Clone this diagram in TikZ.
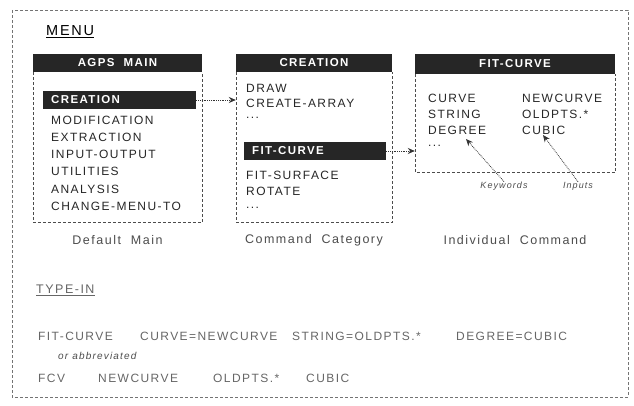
\documentclass[tikz,border=0pt]{standalone}
\usepackage{fontspec}
\setmainfont{Liberation Sans}[LetterSpace=12]
\usetikzlibrary{positioning}
\usetikzlibrary{arrows.meta}

\tikzset{
  headbar/.style={fill=black!85, text=white, inner sep=0pt, minimum height=18,
    font=\fontsize{11.5}{13}\selectfont\bfseries},
  pickbar/.style={fill=black!85, text=white, inner xsep=8pt, inner ysep=0pt,
    minimum height=18, text width=#1, align=left, font=\fontsize{11.5}{13}\selectfont\bfseries},
  itemtext/.style={text=black!85, inner sep=0pt, anchor=west, font=\fontsize{12}{14}\selectfont},
  boxline/.style={draw=black!70, densely dashed, line width=0.6pt},
  caption/.style={text=black!70, inner sep=0pt, font=\fontsize{12.5}{14}\selectfont},
  notetext/.style={text=black!70, inner sep=0pt, font=\fontsize{9}{10}\selectfont\itshape},
  pointer/.style={densely dotted, line width=0.8pt, black!80, -{Stealth[length=7pt,width=6pt]}},
  typetext/.style={text=black!60, inner sep=0pt, anchor=west, font=\fontsize{12}{14}\selectfont},
}

\begin{document}
\begin{tikzpicture}[x=1pt,y=-1pt]
\useasboundingbox (0,0) rectangle (634,406);
\draw[boxline,black!55] (12,10) rectangle (628,397);

\node[itemtext,text=black,font=\fontsize{14.5}{16}\selectfont] (menu) at (46,32) {\underline{MENU}};

% Default main menu, CREATION picked.
\node[headbar, minimum width=169] (mainhead) at (117.5,63) {AGPS\ \ MAIN};
\draw[boxline] (mainhead.south west) -- ++(0,150) -| (mainhead.south east);
\node[pickbar=137pt, anchor=west] (creationbar) at (43,100) {CREATION};
\foreach \lbl [count=\i] in {MODIFICATION, EXTRACTION, INPUT-OUTPUT, UTILITIES, ANALYSIS, CHANGE-MENU-TO}
  \node[itemtext] (mainitem\i) at (51,{103+17.2*\i}) {\lbl};
\node[caption] (maincap) at (117.5,240) {Default\ \ Main};

% Command category, FIT-CURVE picked.
\node[headbar, minimum width=156] (cathead) at (314,63) {CREATION};
\draw[boxline] (cathead.south west) -- ++(0,150) -| (cathead.south east);
\node[itemtext] (catdraw) at (246,88) {DRAW};
\node[itemtext] (catarray) at (246,103) {CREATE-ARRAY};
\node[itemtext] (catdots) at (246,118) {...};
\node[pickbar=126pt, anchor=west] (fitbar) at (244,151) {FIT-CURVE};
\node[itemtext] (catsurf) at (246,175) {FIT-SURFACE};
\node[itemtext] (catrot) at (246,191) {ROTATE};
\node[itemtext] (catmore) at (246,208) {...};
\node[caption] (catcap) at (314,240) {Command\ \ Category};

\draw[pointer] (creationbar.east) -- (creationbar.east -| cathead.west);

% Individual command with keywords and inputs.
\node[headbar, minimum width=200, minimum height=20] (cmdhead) at (515,64) {FIT-CURVE};
\draw[boxline] (cmdhead.south west) -- ++(0,98) -| (cmdhead.south east);
\foreach \kw/\val [count=\i] in {CURVE/NEWCURVE, STRING/OLDPTS.*, DEGREE/CUBIC} {
  \node[itemtext] (kw\i) at (428,{82+16*\i}) {\kw};
  \node[itemtext] (val\i) at (522,{82+16*\i}) {\val};
}
\node[itemtext] (kwdots) at (428,146) {...};
\node[caption] (cmdcap) at (515,240) {Individual\ \ Command};

\draw[pointer] (fitbar.east) -- (fitbar.east -| cmdhead.west);

\node[notetext] (keywords) at (504,186) {Keywords};
\node[notetext] (inputs) at (578,186) {Inputs};
\coordinate (kwtip) at (466,139);
\coordinate (valtip) at (543,135);
\draw[pointer] (keywords.north) -- (kwtip);
\draw[pointer] (inputs.north) -- (valtip);

% Typed form of the same command.
\node[itemtext,text=black!60,font=\fontsize{12.5}{14}\selectfont] (typein) at (36,290) {\underline{TYPE-IN}};
\node[typetext] (fullcmd) at (38,336) {FIT-CURVE};
\node[typetext] (fullkw1) at (140,336) {CURVE=NEWCURVE};
\node[typetext] (fullkw2) at (292,336) {STRING=OLDPTS.*};
\node[typetext] (fullkw3) at (456,336) {DEGREE=CUBIC};
\node[notetext, anchor=west, font=\fontsize{10}{12}\selectfont\itshape] (abbrev) at (58,356) {or abbreviated};
\node[typetext] (shortcmd) at (38,378) {FCV};
\node[typetext] (shortkw1) at (98,378) {NEWCURVE};
\node[typetext] (shortkw2) at (213,378) {OLDPTS.*};
\node[typetext] (shortkw3) at (306,378) {CUBIC};
\end{tikzpicture}
\end{document}
